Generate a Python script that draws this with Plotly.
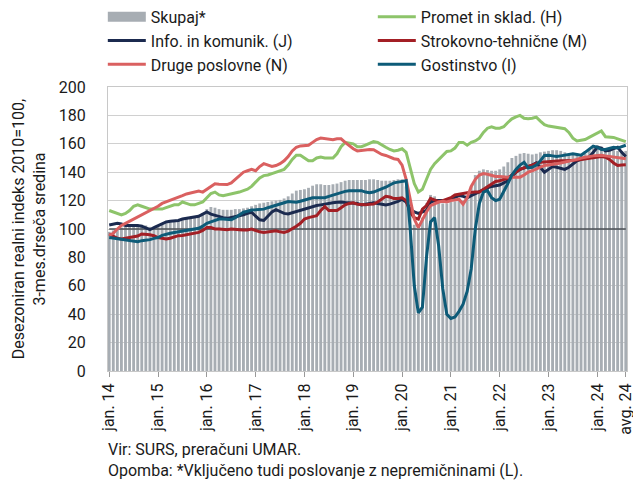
import plotly.graph_objects as go

skupaj = [98, 99, 100, 101, 101.5, 102, 102.5, 103, 103, 102.5, 101.5, 101,
          102, 103, 104, 105, 105.5, 106, 106.5, 107, 107.5, 108, 109, 111,
          114, 115.5, 115, 114, 113.5, 113.5, 113.5, 114, 114, 114.5, 115, 116,
          117, 118, 118.5, 119, 119.5, 120, 120.5, 121.5, 123, 125, 127, 127.5,
          128, 129, 130.5, 131.5, 131.5, 131, 131, 131.5, 132, 133, 134, 134.5,
          134.5, 134.5, 134.5, 134.5, 135, 135, 134.5, 134, 134, 134, 134.5, 135,
          135, 130, 115, 103, 100, 108, 118, 124, 123, 120, 118, 118,
          119, 119.5, 120, 120, 121, 130, 138, 141, 142, 141.5, 141, 141,
          142, 144, 147, 150, 151.5, 153, 153.5, 153, 152.5, 153, 154, 154.5,
          155, 155.5, 155.5, 155, 154, 153, 152.5, 152, 152, 153, 156, 158.5,
          159, 158, 157, 156, 155.5, 155, 155, 155]

promet = [113, 112, 111, 110, 111, 113, 116, 117, 116, 115, 114, 114,
          114, 114, 115, 116, 117, 117, 119, 118, 117, 117, 118, 119,
          122, 125, 126, 124, 123.5, 124, 124.5, 125, 126, 127, 128, 130,
          133, 136, 137.6, 138, 139, 140, 141, 142, 145, 149, 152, 152,
          150, 148, 148, 150, 150.6, 150, 150, 150, 153, 158, 161, 160.5,
          160, 158, 158, 159, 160, 161.5, 161, 159, 157.6, 156, 155, 155.5,
          156.5, 154, 142, 132, 126, 128, 135, 142, 146, 149, 152, 154.6,
          155, 157, 161, 161, 159, 161, 162, 164, 168, 171, 172, 171,
          171, 172, 175, 177.6, 179, 180, 178, 177.6, 178, 178.8, 176, 173.5,
          172.5, 172, 171.8, 171, 170.6, 168, 164, 162, 162.5, 163, 164.5, 166,
          168, 169, 165, 165, 164.5, 163.5, 162.5, 161.5]

info = [102.8, 103.5, 104, 103.5, 102.5, 102.4, 102.5, 102.4, 102, 101, 99.5, 101,
        102.4, 103.5, 105, 105.5, 105.5, 106, 107, 107.5, 108, 108.5, 109, 110.5,
        112, 110.5, 109.5, 108.5, 108, 107.5, 108, 108.5, 109.4, 110, 111, 111.8,
        109, 106.5, 106, 109, 112, 113.6, 112.5, 111, 110.6, 111.5, 112.5, 113,
        114, 115, 116, 116.5, 117, 117.6, 118, 118.5, 118.8, 119, 118.6, 118.4,
        118.4, 118, 117, 117.5, 118, 118.4, 118, 117.5, 117, 117.5, 118.4, 119.5,
        121, 119, 114, 112, 111, 112, 113, 119, 120, 120, 120, 120,
        121, 122, 123.5, 123, 122, 123.5, 125, 126, 127.5, 129, 130, 130.5,
        131, 132.5, 134, 137, 140, 142, 143, 143.5, 145, 146.6, 143, 140,
        142, 144, 143.5, 143, 142, 143.5, 146, 148, 149, 150, 150.6, 154,
        157.6, 157, 155, 155.5, 156.5, 157.6, 154, 151]

strokovno = [96.5, 95, 93.5, 93, 93.5, 94, 94, 95, 96.5, 96.5, 96, 95.3,
             94, 93.5, 93, 93.5, 94.5, 95.3, 95.5, 96, 96.5, 97, 97.6, 99,
             101, 101, 100, 100, 99.5, 99.5, 100, 100, 99.5, 99.3, 99.3, 100,
             99, 98, 97.6, 98, 98.5, 98.8, 98, 97.6, 98.5, 100, 102, 104,
             107, 108, 108.5, 109.4, 113, 115.8, 113, 113, 113, 115, 117, 118,
             118.4, 117.5, 117, 117, 117.5, 117.6, 119, 121, 123, 122.5, 121.4, 121.5,
             122, 120, 111.8, 108, 107, 114, 116.5, 121.6, 120.5, 119.3, 120, 121,
             122, 124, 124.7, 125, 125.5, 126, 126, 126, 128, 130, 132, 133.5,
             134, 135, 135.8, 138, 140, 142, 143, 144, 145, 146, 147, 147.2,
             147.5, 147.8, 148, 148, 148, 148, 148, 148.5, 149, 149.4, 150, 150.5,
             151, 151, 150.6, 149, 146.5, 144.7, 145, 145.2]

druge = [95.5, 97, 100, 102.5, 104, 105.5, 107, 108.5, 110, 111, 112.5, 114,
         116, 118, 119, 120.5, 121.5, 122.5, 123.5, 124.7, 125.5, 126.5, 126.8, 126,
         128, 130, 131.8, 131.5, 131.3, 131.3, 132.5, 135, 138, 140, 141, 142,
         141, 144, 146, 145, 144, 144.7, 146, 148, 151, 155, 157.6, 158.5,
         158.5, 159, 161, 163, 164, 163.5, 163, 162.8, 163.5, 163.5, 161, 158.8,
         156.5, 155, 155.5, 155.8, 156, 155.8, 154, 152.5, 151.8, 150.5, 149.5, 149,
         145, 135, 122, 107, 101, 107, 112, 116.5, 118, 119, 119.5, 119,
         120, 120.5, 121, 117.5, 122, 130, 135, 138, 139, 138.5, 137.6, 137,
         137, 136.5, 136.5, 136.5, 136.5, 136.5, 138, 140, 141, 142, 143.5, 144.7,
         145, 145.5, 146, 146.5, 147, 147.5, 148, 149, 150, 150.6, 151, 151.5,
         151.8, 152, 151.5, 151, 150.5, 150, 149.6, 149.4]

gostinstvo = [94, 93.5, 93.4, 93, 92, 91.5, 91, 91, 91.8, 92, 92.5, 93.4,
              94, 95.5, 96.5, 97, 97.5, 98, 98.5, 98.8, 99, 99.5, 100.5, 102,
              104, 105, 106, 107, 107, 106.8, 106.6, 108, 110, 111.8, 112.5, 113.4,
              113.5, 113.8, 114, 115, 116, 117, 118, 118.5, 119.3, 119, 118.8, 119.5,
              120.5, 121.5, 122, 122, 122, 122, 123, 124, 124.5, 125.5, 126.5, 127,
              127, 127.5, 127, 126, 125.5, 126, 127, 128, 129.4, 131, 132.5, 133,
              133.5, 134, 100, 60, 41, 45, 80, 105, 108, 88, 58, 40,
              37, 38, 42, 47, 56, 72, 100, 118, 126, 127, 122, 120,
              121, 126, 132, 138, 142, 145, 147, 143, 143.5, 145, 148, 151.8,
              152, 151.5, 151, 151.5, 152, 153, 153, 152.5, 152, 154, 156.5, 158.4,
              157.5, 156, 156, 157, 157.6, 157, 158, 159]

tick_labels = ["jan. 14", "jan. 15", "jan. 16", "jan. 17", "jan. 18", "jan. 19",
               "jan. 20", "jan. 21", "jan. 22", "jan. 23", "jan. 24", "avg. 24"]

BASE = 100
months = list(range(len(skupaj)))
tick_vals = list(range(0, len(skupaj), 12)) + [len(skupaj) - 1]

FONT = "Roboto"
fig = go.Figure()

fig.add_trace(go.Bar(x=months, y=skupaj, marker=dict(color="#A7ADB3", line=dict(width=0)),
                     name="Skupaj*", showlegend=False))
fig.add_trace(go.Scatter(x=months, y=[BASE] * len(months), mode="lines",
                         line=dict(color="#4a4f55", width=1.5), showlegend=False, hoverinfo="skip"))

# legend proxy for bars
fig.add_trace(go.Scatter(x=[None], y=[None], mode="lines", name="Skupaj*",
                         line=dict(color="#A7ADB3", width=10)))

series = [
    ("Promet in sklad. (H)", promet, "#8DC46A"),
    ("Info. in komunik. (J)", info, "#1B2A4F"),
    ("Strokovno-tehnične (M)", strokovno, "#A31F25"),
    ("Druge poslovne (N)", druge, "#DA6060"),
    ("Gostinstvo (I)", gostinstvo, "#0D5B78"),
]
for name, vals, col in series:
    fig.add_trace(go.Scatter(x=months, y=vals, mode="lines", name=name,
                             line=dict(color=col, width=3)))

fig.update_layout(
    width=633, height=480,
    margin=dict(l=108, r=6, t=87, b=109, autoexpand=False),
    plot_bgcolor="white", paper_bgcolor="white",
    font=dict(family=FONT, size=16, color="#1a1a1a"),
    bargap=0.3,
    showlegend=True,
    legend=dict(orientation="h", x=-0.01, y=1.307, xanchor="left", yanchor="top",
                entrywidth=217, entrywidthmode="pixels", itemwidth=38,
                tracegroupgap=0, font=dict(size=16), bgcolor="rgba(0,0,0,0)"),
    xaxis=dict(range=[-0.3, len(skupaj) - 0.7], tickvals=tick_vals, ticktext=tick_labels,
               tickangle=-90, ticks="outside", ticklen=5, tickcolor="#999",
               ticklabeloverflow="allow",
               showgrid=False, zeroline=False, showline=True, linecolor="#c8c8c8",
               mirror=True, tickfont=dict(size=16)),
    yaxis=dict(range=[0, 200], dtick=20, showgrid=True, gridcolor="#d0d0d0", gridwidth=1,
               zeroline=False, showline=True, linecolor="#c8c8c8", mirror=True,
               ticklabelstandoff=18, tickfont=dict(size=16),
               title=dict(text="Desezoniran realni indeks 2010=100,<br>3-mes.drseča sredina",
                          font=dict(size=16), standoff=9)),
)

fig.add_annotation(text="Vir: SURS, preračuni UMAR.", xref="paper", yref="paper",
                   x=0, y=-0.278, xanchor="left", yanchor="middle", showarrow=False,
                   font=dict(size=16), xshift=-2)
fig.add_annotation(text="Opomba: *Vključeno tudi poslovanje z nepremičninami (L).", xref="paper", yref="paper",
                   x=0, y=-0.349, xanchor="left", yanchor="middle", showarrow=False,
                   font=dict(size=16), xshift=-2)

fig.write_html("out.html", config={"displayModeBar": False},
               post_script="document.body.style.margin='0';document.body.style.overflow='hidden';")
